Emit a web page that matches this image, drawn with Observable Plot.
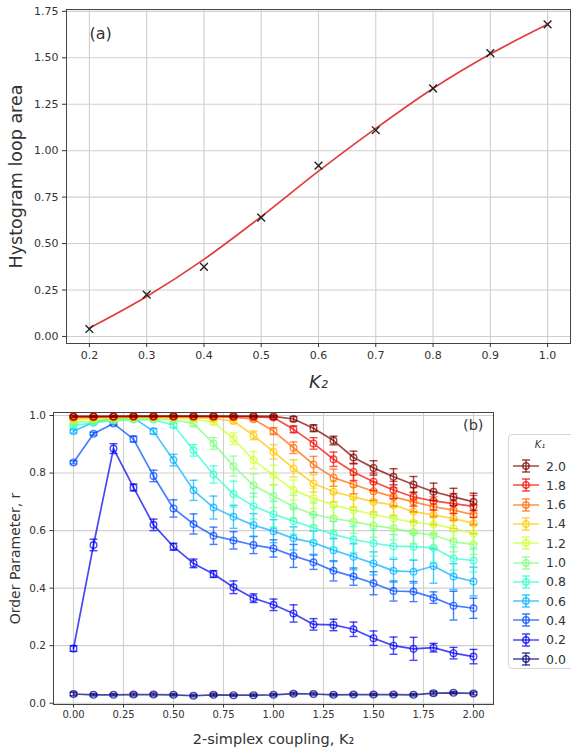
<!DOCTYPE html>
<html><head><meta charset="utf-8">
<script src="https://cdn.jsdelivr.net/npm/d3@7"></script>
<script src="https://cdn.jsdelivr.net/npm/@observablehq/plot@0.6"></script>
<style>
body{margin:0;background:#fff;overflow:hidden;font-family:"DejaVu Sans",sans-serif;}
#wrap{position:relative;width:571px;height:747px;overflow:hidden;}
#a{position:absolute;left:0;top:0}
#b{position:absolute;left:0;top:392px}
#legend{position:absolute;left:508px;top:434px;width:80px;height:235px;border:1px solid #d6d6d6;border-radius:4px;background:rgba(255,255,255,0.85);box-sizing:border-box}
#legend .t{position:absolute;left:0;width:62px;top:4px;text-align:center;font-size:10px;font-style:italic;color:#333}
#legend .row{position:absolute;left:3px;height:16px;display:flex;align-items:center}
#legend .row span{font-size:12.5px;color:#333;margin-left:6px}
</style></head><body>
<div id="wrap"><div id="a"></div><div id="b"></div><div id="legend"></div></div>
<script>
// ---------- Panel (a) data ----------
const K2a = [0.2, 0.3, 0.4, 0.5, 0.6, 0.7, 0.8, 0.9, 1.0];
const loopArea = [0.04, 0.225, 0.375, 0.64, 0.92, 1.11, 1.335, 1.525, 1.68];
const loopFit = [0.045, 0.215, 0.415, 0.645, 0.89, 1.12, 1.335, 1.52, 1.68];
const ticksA_x = [0.2, 0.3, 0.4, 0.5, 0.6, 0.7, 0.8, 0.9, 1.0];
const ticksA_y = [0, 0.25, 0.5, 0.75, 1.0, 1.25, 1.5, 1.75];

// ---------- Panel (b) data ----------
const K2b = [0, 0.1, 0.2, 0.3, 0.4, 0.5, 0.6, 0.7, 0.8, 0.9, 1.0, 1.1, 1.2, 1.3, 1.4, 1.5, 1.6, 1.7, 1.8, 1.9, 2.0];
const K1 = ["2.0", "1.8", "1.6", "1.4", "1.2", "1.0", "0.8", "0.6", "0.4", "0.2", "0.0"];
const r20 = [0.997,0.997,0.997,0.998,0.998,0.998,0.998,0.998,0.998,0.998,0.997,0.988,0.956,0.913,0.854,0.818,0.787,0.760,0.735,0.717,0.700];
const r18 = [0.996,0.996,0.997,0.997,0.997,0.997,0.997,0.997,0.996,0.995,0.993,0.952,0.903,0.848,0.804,0.770,0.741,0.717,0.703,0.694,0.684];
const r16 = [0.994,0.995,0.996,0.996,0.996,0.996,0.996,0.995,0.994,0.987,0.946,0.888,0.830,0.784,0.760,0.737,0.717,0.700,0.683,0.671,0.655];
const r14 = [0.990,0.992,0.993,0.994,0.994,0.994,0.993,0.990,0.980,0.931,0.874,0.816,0.764,0.735,0.717,0.700,0.689,0.666,0.654,0.642,0.625];
const r12 = [0.984,0.987,0.989,0.991,0.991,0.990,0.987,0.977,0.919,0.845,0.792,0.741,0.712,0.689,0.671,0.656,0.642,0.628,0.622,0.608,0.590];
const r10 = [0.975,0.980,0.984,0.987,0.988,0.986,0.972,0.903,0.824,0.757,0.720,0.683,0.656,0.642,0.631,0.617,0.608,0.594,0.584,0.561,0.552];
const r08 = [0.965,0.975,0.982,0.986,0.986,0.966,0.879,0.795,0.727,0.685,0.657,0.633,0.610,0.587,0.569,0.556,0.546,0.544,0.540,0.503,0.496];
const r06 = [0.945,0.977,0.990,0.992,0.945,0.845,0.740,0.680,0.648,0.619,0.598,0.573,0.558,0.532,0.509,0.486,0.460,0.457,0.477,0.440,0.423];
const r04 = [0.837,0.937,0.972,0.918,0.790,0.677,0.623,0.582,0.566,0.550,0.538,0.512,0.490,0.460,0.440,0.417,0.390,0.388,0.367,0.339,0.330];
const r02 = [0.190,0.550,0.885,0.750,0.620,0.544,0.486,0.449,0.403,0.365,0.342,0.312,0.274,0.272,0.257,0.226,0.200,0.189,0.193,0.174,0.162];
const r00 = [0.032,0.029,0.029,0.030,0.030,0.029,0.026,0.029,0.028,0.028,0.029,0.033,0.032,0.029,0.030,0.030,0.030,0.029,0.035,0.036,0.034];

const e20 = [.003,.003,.003,.003,.003,.003,.003,.003,.003,.003,.004,.008,.012,.015,.022,.025,.028,.028,.03,.03,.03];
const e18 = [.003,.003,.003,.003,.003,.003,.003,.003,.003,.004,.006,.012,.02,.025,.03,.03,.03,.032,.032,.035,.038];
const e16 = [.004,.003,.003,.003,.003,.003,.003,.003,.004,.006,.012,.02,.028,.03,.032,.032,.032,.035,.035,.035,.035];
const e14 = [.004,.004,.003,.003,.003,.003,.004,.005,.007,.015,.025,.03,.03,.035,.035,.035,.035,.035,.035,.035,.035];
const e12 = [.005,.004,.004,.003,.003,.004,.005,.008,.02,.03,.035,.035,.035,.04,.04,.04,.04,.035,.035,.035,.035];
const e10 = [.006,.005,.004,.004,.004,.005,.01,.02,.035,.04,.04,.04,.04,.04,.04,.04,.04,.04,.04,.035,.035];
const e08 = [.006,.005,.004,.004,.004,.008,.02,.03,.045,.045,.045,.045,.045,.045,.045,.045,.04,.045,.05,.04,.04];
const e06 = [.006,.005,.004,.004,.01,.02,.035,.04,.04,.04,.04,.04,.04,.04,.045,.04,.04,.04,.06,.045,.05];
const e04 = [.005,.005,.005,.01,.02,.03,.035,.03,.03,.03,.03,.04,.025,.035,.03,.04,.035,.035,.02,.05,.035];
const e02 = [.01,.02,.017,.012,.02,.012,.015,.012,.022,.015,.02,.03,.02,.02,.025,.025,.03,.04,.015,.02,.025];
const e00 = [.006,.004,.004,.005,.005,.004,.004,.005,.004,.004,.004,.005,.004,.004,.004,.004,.004,.004,.006,.004,.005];
const ticksB_x = [0, 0.25, 0.5, 0.75, 1.0, 1.25, 1.5, 1.75, 2.0];
const ticksB_y = [0, 0.2, 0.4, 0.6, 0.8, 1.0];

// jet colormap samples for K1 = 2.0 ... 0.0
const jetColors = ["#800000", "#f40a00", "#ff6800", "#ffc600", "#ceff29", "#7dff7a", "#29ffce", "#00b3ff", "#004cff", "#0000f4", "#000080"];

const FONT = "DejaVu Sans";
const GRID = "#cfcfcf";
const INK = "#333";

// ---------- Panel (a) ----------
const dataA = K2a.map((k, i) => ({k, area: loopArea[i], fit: loopFit[i]}));
const plotA = Plot.plot({
  width: 571, height: 392,
  marginTop: 9, marginBottom: 49, marginLeft: 66, marginRight: 1,
  style: {fontFamily: FONT, fontSize: "11px", color: INK, background: "white"},
  x: {domain: [0.16, 1.04], ticks: ticksA_x, tickFormat: d3.format(".1f")},
  y: {domain: [-0.038, 1.76], ticks: ticksA_y, tickFormat: d3.format(".2f")},
  marks: [
    Plot.gridX({ticks: ticksA_x, stroke: GRID, strokeOpacity: 1, strokeWidth: 1.1}),
    Plot.gridY({ticks: ticksA_y, stroke: GRID, strokeOpacity: 1, strokeWidth: 1.1}),
    Plot.line(dataA, {x: "k", y: "fit", stroke: "#e23d3d", strokeWidth: 1.7, curve: "monotone-x"}),
    Plot.dot(dataA, {x: "k", y: "area", symbol: "times", r: 3.6, stroke: "#222", strokeWidth: 1.4}),
    Plot.frame({stroke: "#444", strokeWidth: 1}),
    Plot.axisX({ticks: ticksA_x, tickFormat: d3.format(".1f"), tickSize: 4, tickPadding: 4, label: null, fontSize: 11}),
    Plot.axisY({ticks: ticksA_y, tickFormat: d3.format(".2f"), tickSize: 4, tickPadding: 4, label: null, fontSize: 11}),
    Plot.text(["Hystogram loop area"], {frameAnchor: "left", textAnchor: "middle", lineAnchor: "middle", rotate: -90, dx: -50, fontSize: 17.5, fill: INK}),
    Plot.text(["K₂"], {frameAnchor: "bottom", textAnchor: "middle", lineAnchor: "bottom", dy: 44, fontSize: 18, fontStyle: "italic", fill: INK}),
    Plot.text(["(a)"], {frameAnchor: "top-left", textAnchor: "start", lineAnchor: "top", dx: 23, dy: 18, fontSize: 16, fill: INK})
  ]
});
document.getElementById("a").append(plotA);

// ---------- Panel (b) ----------
const rSeries = [r20, r18, r16, r14, r12, r10, r08, r06, r04, r02, r00];
const eSeries = [e20, e18, e16, e14, e12, e10, e08, e06, e04, e02, e00];
const series = K1.map((k, s) => K2b.map((x, i) => ({k, x, r: rSeries[s][i], e: eSeries[s][i]})));

const capSymbol = {draw(ctx) { ctx.moveTo(-4, 0); ctx.lineTo(4, 0); }};

const seriesMarks = [];
for (let s = K1.length - 1; s >= 0; s--) {
  const pts = series[s];
  const common = {x: "x", stroke: "k", strokeOpacity: 0.72};
  seriesMarks.push(
    Plot.ruleX(pts, {...common, y1: d => d.r - d.e, y2: d => d.r + d.e, strokeWidth: 1.4}),
    Plot.dot(pts, {...common, y: d => d.r + d.e, symbol: capSymbol, strokeWidth: 1.4, fill: "none"}),
    Plot.dot(pts, {...common, y: d => d.r - d.e, symbol: capSymbol, strokeWidth: 1.4, fill: "none"}),
    Plot.line(pts, {...common, y: "r", strokeWidth: 1.7}),
    Plot.dot(pts, {...common, y: "r", r: 3.3, strokeWidth: 1.4, fill: "none"})
  );
}

const plotB = Plot.plot({
  width: 571, height: 355,
  marginTop: 20, marginBottom: 43, marginLeft: 53, marginRight: 78,
  style: {fontFamily: FONT, fontSize: "10px", color: INK, background: "transparent"},
  x: {domain: [-0.1, 2.1], ticks: ticksB_x, tickFormat: d3.format(".2f")},
  y: {domain: [-0.0045, 1.0105], ticks: ticksB_y, tickFormat: d3.format(".1f")},
  color: {domain: K1, range: jetColors},
  marks: [
    Plot.gridX({ticks: ticksB_x, stroke: GRID, strokeOpacity: 1, strokeWidth: 1.1}),
    Plot.gridY({ticks: ticksB_y, stroke: GRID, strokeOpacity: 1, strokeWidth: 1.1}),
    ...seriesMarks,
    Plot.frame({stroke: "#444", strokeWidth: 1}),
    Plot.axisX({ticks: ticksB_x, tickFormat: d3.format(".2f"), tickSize: 3.5, tickPadding: 3, label: null, fontSize: 10}),
    Plot.axisY({ticks: ticksB_y, tickFormat: d3.format(".1f"), tickSize: 3.5, tickPadding: 4, label: null, fontSize: 10.5}),
    Plot.text(["Order Parameter, r"], {frameAnchor: "left", textAnchor: "middle", lineAnchor: "middle", rotate: -90, dx: -38, fontSize: 14, fill: INK}),
    Plot.text(["2-simplex coupling, K₂"], {frameAnchor: "bottom", textAnchor: "middle", lineAnchor: "bottom", dy: 39, fontSize: 14.5, fill: INK}),
    Plot.text(["(b)"], {frameAnchor: "top-right", textAnchor: "end", lineAnchor: "top", dx: -10, dy: 7, fontSize: 14.5, fill: INK})
  ]
});
document.getElementById("b").append(plotB);

// ---------- Legend (K1) ----------
const legend = document.getElementById("legend");
const title = document.createElement("div");
title.className = "t"; title.textContent = "K₁";
legend.append(title);
K1.forEach((k, i) => {
  const row = document.createElement("div");
  row.className = "row";
  row.style.top = (23 + i * 19.3) + "px";
  const c = jetColors[i];
  row.innerHTML = `<svg width="28" height="16" style="overflow:visible">
    <g stroke="${c}" stroke-opacity="0.72" stroke-width="1.5" fill="none">
      <line x1="1" y1="8" x2="27" y2="8"/>
      <line x1="14" y1="2" x2="14" y2="14"/>
      <line x1="10" y1="2" x2="18" y2="2"/>
      <line x1="10" y1="14" x2="18" y2="14"/>
      <circle cx="14" cy="8" r="3.2"/>
    </g></svg><span>${k}</span>`;
  legend.append(row);
});
</script>
</body></html>
